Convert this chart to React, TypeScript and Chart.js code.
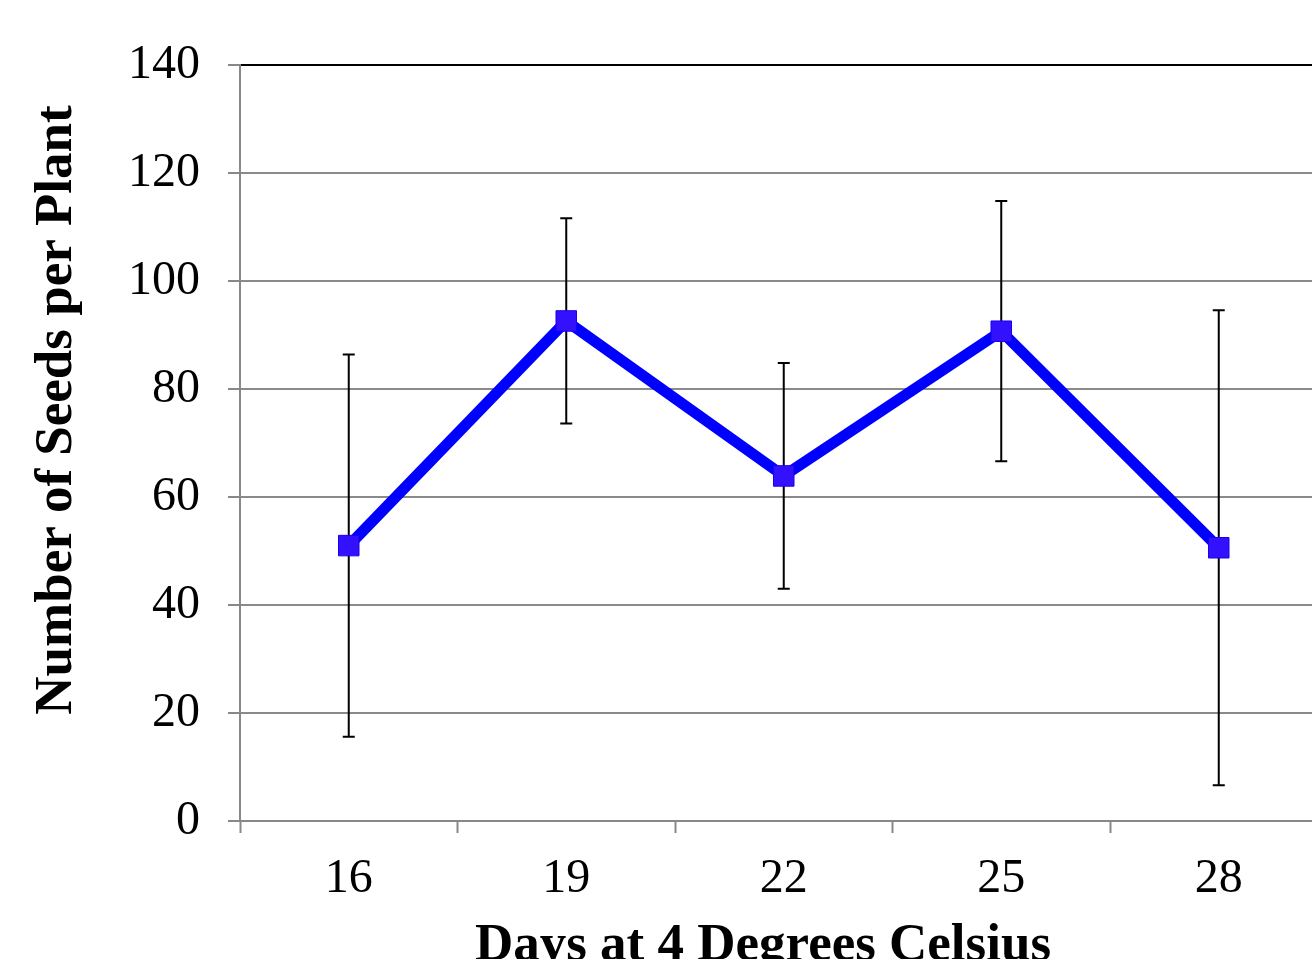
import React, { useEffect, useRef } from "react";
import { Chart, registerables } from "chart.js";

Chart.register(...registerables);

const categories: string[] = ["16", "19", "22", "25", "28"];
const meanSeeds: number[] = [51, 92.6, 63.9, 90.7, 50.6];
const errorSeeds: number[] = [35.4, 19, 20.9, 24.1, 44];
const yTicks: number[] = [0, 20, 40, 60, 80, 100, 120, 140];
const xTitle = "Days at 4 Degrees Celsius";
const yTitle = "Number of Seeds per Plant";

const CANVAS_W = 1343;
const CANVAS_H = 959;
const FONT = "'Liberation Serif', 'Times New Roman', serif";

const errorBarPlugin = {
  id: "errorBars",
  beforeDatasetsDraw(chart: any) {
    const ctx = chart.ctx;
    const xs = chart.scales.x;
    const ys = chart.scales.y;
    ctx.save();
    ctx.strokeStyle = "#000000";
    ctx.lineWidth = 2;
    meanSeeds.forEach((m, i) => {
      const x = xs.getPixelForValue(i);
      const yHi = ys.getPixelForValue(m + errorSeeds[i]);
      const yLo = ys.getPixelForValue(m - errorSeeds[i]);
      ctx.beginPath();
      ctx.moveTo(x, yHi);
      ctx.lineTo(x, yLo);
      ctx.moveTo(x - 6, yHi);
      ctx.lineTo(x + 6, yHi);
      ctx.moveTo(x - 6, yLo);
      ctx.lineTo(x + 6, yLo);
      ctx.stroke();
    });
    ctx.restore();
  },
};

const axisTitlePlugin = {
  id: "axisTitles",
  afterDraw(chart: any) {
    const ctx = chart.ctx;
    ctx.save();
    ctx.fillStyle = "#000000";
    ctx.font = `bold 53px ${FONT}`;
    ctx.textAlign = "center";
    ctx.textBaseline = "alphabetic";
    ctx.fillText(xTitle, 763, 960);
    ctx.translate(57, 410);
    ctx.rotate(-Math.PI / 2);
    ctx.textBaseline = "middle";
    ctx.fillText(yTitle, 0, 0);
    ctx.restore();
  },
};

export default function App() {
  const ref = useRef<HTMLCanvasElement | null>(null);

  useEffect(() => {
    if (!ref.current) return;
    document.body.style.overflow = "hidden";
    const chart = new Chart(ref.current, {
      type: "line",
      data: {
        labels: categories,
        datasets: [
          {
            data: meanSeeds,
            borderColor: "#0000ff",
            borderWidth: 11,
            pointStyle: "rect",
            pointRadius: 14.5,
            pointBackgroundColor: "#3311ff",
            pointBorderColor: "#1a00ee",
            pointBorderWidth: 1,
            tension: 0,
          },
        ],
      },
      options: {
        responsive: false,
        animation: false,
        layout: { padding: { top: 65, left: 0, right: 0, bottom: 0 } },
        plugins: {
          legend: { display: false },
          tooltip: { enabled: false },
        },
        scales: {
          x: {
            type: "category",
            offset: true,
            afterFit: (s: any) => {
              s.height = CANVAS_H - 821;
            },
            grid: {
              offset: true,
              drawOnChartArea: false,
              drawTicks: true,
              tickLength: 12,
              tickColor: "#888888",
              tickWidth: 2,
            },
            border: { display: true, color: "#888888", width: 2 },
            ticks: {
              color: "#000000",
              padding: 18,
              font: { family: FONT, size: 48 },
              maxRotation: 0,
            },
          },
          y: {
            min: 0,
            max: 140,
            afterFit: (s: any) => {
              s.width = 240;
            },
            afterBuildTicks: (s: any) => {
              s.ticks = yTicks.map((v) => ({ value: v }));
            },
            grid: {
              color: (c: any) => (c.tick && c.tick.value === 140 ? "#000000" : "#8a8a8a"),
              lineWidth: 2,
              tickLength: 12,
              tickColor: "#888888",
              tickWidth: 2,
            },
            border: { display: true, color: "#888888", width: 2 },
            ticks: {
              color: "#000000",
              padding: 28,
              font: { family: FONT, size: 48 },
            },
          },
        },
      },
      plugins: [errorBarPlugin, axisTitlePlugin],
    });
    return () => chart.destroy();
  }, []);

  return (
    <div
      style={{
        position: "fixed",
        left: 0,
        top: 0,
        width: 1312,
        height: 959,
        overflow: "hidden",
        background: "#ffffff",
      }}
    >
      <canvas
        ref={ref}
        width={CANVAS_W}
        height={CANVAS_H}
        style={{ width: CANVAS_W, height: CANVAS_H, display: "block" }}
      />
    </div>
  );
}
